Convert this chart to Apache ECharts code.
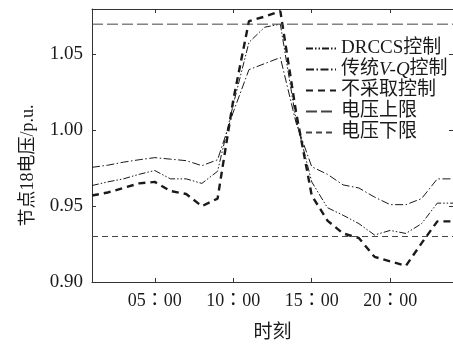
<!DOCTYPE html>
<html>
<head>
<meta charset="utf-8">
<script src="https://cdn.jsdelivr.net/npm/echarts@6/dist/echarts.min.js"></script>
<style>
  html, body { margin: 0; padding: 0; background: #fff; }
  #chart { width: 453px; height: 348px; }
</style>
</head>
<body>
<div id="chart"></div>
<script>
// hours 1..24
const hours = [1, 2, 3, 4, 5, 6, 7, 8, 9, 10, 11, 12, 13, 14, 15, 16, 17, 18, 19, 20, 21, 22, 23, 24];
const drccs = [0.9636, 0.966, 0.968, 0.971, 0.9735, 0.968, 0.968, 0.965, 0.973, 1.017, 1.058, 1.068,
  1.070, 1.007, 0.966, 0.949, 0.944, 0.9385, 0.931, 0.934, 0.932, 0.9385, 0.952, 0.952];
const vq = [0.9756, 0.977, 0.979, 0.9806, 0.982, 0.981, 0.980, 0.9767, 0.9806, 1.012, 1.040, 1.044,
  1.048, 1.005, 0.976, 0.971, 0.964, 0.962, 0.956, 0.951, 0.951, 0.955, 0.968, 0.968];
const noControl = [0.957, 0.959, 0.962, 0.965, 0.966, 0.960, 0.958, 0.950, 0.955, 1.020, 1.072, 1.075,
  1.0786, 1.012, 0.957, 0.9405, 0.932, 0.929, 0.9166, 0.9136, 0.9107, 0.9256, 0.940, 0.940];
const upperLimit = 1.07;
const lowerLimit = 0.93;

const seriesNames = ['DRCCS控制', '传统V-Q控制', '不采取控制', '电压上限', '电压下限'];
const xTickValues = [5, 10, 15, 20];
const xTickLabels = ['05：00', '10：00', '15：00', '20：00'];
const yTickValues = [0.90, 0.95, 1.00, 1.05];

const serif = "'Liberation Serif', 'Noto Sans CJK SC', serif";
const ink = '#1a1a1a';

const pairs = vals => hours.map((h, i) => [h, vals[i]]);
const flat = v => [[hours[0], v], [hours[hours.length - 1], v]];

const chart = echarts.init(document.getElementById('chart'));

const frameX = {
  type: 'value',
  min: 1,
  max: 24,
  axisLine: { show: true, onZero: false, lineStyle: { color: '#333', width: 1 } },
  axisTick: { show: true, inside: true, length: 4, customValues: xTickValues, lineStyle: { color: '#333' } },
  splitLine: { show: false }
};
const frameY = {
  type: 'value',
  min: 0.9,
  max: 1.08,
  interval: 0.05,
  axisLine: { show: true, onZero: false, lineStyle: { color: '#333', width: 1 } },
  axisTick: { show: true, inside: true, length: 4, customValues: yTickValues, lineStyle: { color: '#333' } },
  splitLine: { show: false }
};

chart.setOption({
  animation: false,
  backgroundColor: '#fff',
  grid: { left: 92, right: 0, top: 9, bottom: 62 },
  legend: {
    orient: 'vertical',
    left: 300,
    top: 34,
    itemWidth: 30,
    itemHeight: 14,
    itemGap: 2,
    data: seriesNames,
    itemStyle: { opacity: 0 },
    textStyle: {
      fontFamily: serif,
      fontSize: 19,
      lineHeight: 19,
      color: ink,
      rich: {
        it: { fontFamily: serif, fontSize: 19, fontStyle: 'italic', color: ink }
      }
    },
    formatter: name => name === '传统V-Q控制' ? '传统{it|V-Q}控制' : name
  },
  xAxis: [
    Object.assign({}, frameX, {
      position: 'bottom',
      name: '时刻',
      nameLocation: 'middle',
      nameGap: 42,
      nameTextStyle: { fontFamily: serif, fontSize: 19, color: ink },
      axisLabel: {
        show: true,
        customValues: xTickValues,
        margin: 10,
        fontFamily: "'Liberation Serif', 'Noto Sans CJK TC', serif",
        fontSize: 18,
        color: ink,
        formatter: v => xTickLabels[xTickValues.indexOf(v)] || ''
      }
    }),
    Object.assign({}, frameX, { position: 'top', axisLabel: { show: false } })
  ],
  yAxis: [
    Object.assign({}, frameY, {
      position: 'left',
      name: '节点18电压/p.u.',
      nameLocation: 'middle',
      nameGap: 55,
      nameTextStyle: { fontFamily: serif, fontSize: 18, color: ink, padding: [0, 40, 0, 0] },
      axisLabel: {
        show: true,
        customValues: yTickValues,
        margin: 9,
        fontFamily: serif,
        fontSize: 19,
        color: ink,
        formatter: v => v.toFixed(2)
      }
    }),
    Object.assign({}, frameY, { position: 'right', axisLabel: { show: false } })
  ],
  series: [
    {
      name: seriesNames[0], type: 'line', symbol: 'none', data: pairs(drccs),
      lineStyle: { color: ink, width: 1, type: [7, 2, 1.5, 2, 1.5, 2] }, itemStyle: { color: ink }
    },
    {
      name: seriesNames[1], type: 'line', symbol: 'none', data: pairs(vq),
      lineStyle: { color: ink, width: 1, type: [8, 2.5, 1.5, 2.5] }, itemStyle: { color: ink }
    },
    {
      name: seriesNames[2], type: 'line', symbol: 'none', data: pairs(noControl),
      lineStyle: { color: ink, width: 2.4, type: [7, 5] }, itemStyle: { color: ink }
    },
    {
      name: seriesNames[3], type: 'line', symbol: 'none', data: flat(upperLimit),
      lineStyle: { color: '#444', width: 1, type: [11, 4] }, itemStyle: { color: '#444' }
    },
    {
      name: seriesNames[4], type: 'line', symbol: 'none', data: flat(lowerLimit),
      lineStyle: { color: '#444', width: 1, type: [6, 4] }, itemStyle: { color: '#444' }
    }
  ]
});
</script>
</body>
</html>
